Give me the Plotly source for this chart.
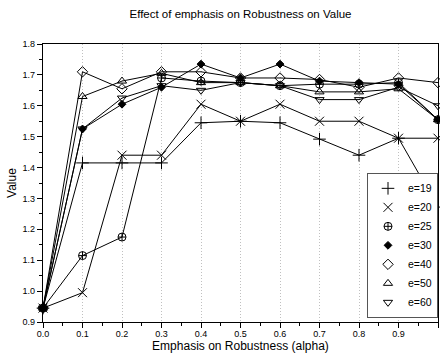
import plotly.graph_objects as go

alpha = [0.0, 0.1, 0.2, 0.3, 0.4, 0.5, 0.6, 0.7, 0.8, 0.9, 1.0]

e19 = [0.945, 1.415, 1.415, 1.415, 1.545, 1.55, 1.545, 1.492, 1.44, 1.495, 1.272]
e20 = [0.945, 0.995, 1.44, 1.44, 1.605, 1.55, 1.605, 1.55, 1.55, 1.495, 1.495]
e25 = [0.945, 1.115, 1.175, 1.69, 1.68, 1.675, 1.665, 1.67, 1.67, 1.675, 1.555]
e30 = [0.945, 1.525, 1.605, 1.66, 1.735, 1.69, 1.735, 1.68, 1.675, 1.67, 1.555]
e40 = [0.945, 1.71, 1.655, 1.71, 1.71, 1.69, 1.69, 1.685, 1.66, 1.69, 1.675]
e50 = [0.945, 1.63, 1.68, 1.705, 1.675, 1.675, 1.665, 1.645, 1.645, 1.655, 1.555]
e60 = [0.945, 1.525, 1.625, 1.665, 1.65, 1.675, 1.665, 1.62, 1.62, 1.66, 1.60]

series_names = ["e=19", "e=20", "e=25", "e=30", "e=40", "e=50", "e=60"]
series_values = [e19, e20, e25, e30, e40, e50, e60]
symbols = ["cross-thin-open", "x-thin-open", "circle-cross-open", "diamond",
           "diamond-open", "triangle-up-open", "triangle-down-open"]
sizes = [9, 9, 8, 6, 8, 8, 8]

FONT = "Liberation Sans, Arial, Helvetica, sans-serif"

fig = go.Figure()
for name, vals, sym, sz in zip(series_names, series_values, symbols, sizes):
    fig.add_trace(go.Scatter(
        x=alpha, y=vals, name=name, mode="lines+markers", showlegend=False,
        legendgroup=name,
        line=dict(color="black", width=1),
        marker=dict(symbol=sym, size=sz, color="black",
                    line=dict(color="black", width=1)),
        cliponaxis=False,
    ))
# legend entries showing the marker only (as in the reference)
for name, sym, sz in zip(series_names, symbols, sizes):
    fig.add_trace(go.Scatter(
        x=[None], y=[None], name=name, mode="markers", legendgroup=name,
        marker=dict(symbol=sym, size=sz, color="black",
                    line=dict(color="black", width=1)),
    ))

axis_common = dict(
    showline=True, linecolor="black", linewidth=1.2, mirror=True,
    ticks="outside", ticklen=5, tickcolor="black", tickwidth=1,
    tickfont=dict(size=9, color="black", family=FONT),
    tickformat=".1f", zeroline=False,
)

fig.update_xaxes(
    range=[0, 1], dtick=0.1, tick0=0,
    showgrid=True, gridcolor="#c0c0c0", griddash="1px,2px", gridwidth=1,
    minor=dict(dtick=0.05, ticks="outside", ticklen=3, tickcolor="black", showgrid=False),
    ticklabelstandoff=-2,
    title=dict(text="Emphasis on Robustness (alpha)", font=dict(size=12, family=FONT, color="black"), standoff=0),
    **axis_common,
)
fig.update_yaxes(
    range=[0.9, 1.8], dtick=0.1, tick0=0.9,
    showgrid=False,
    minor=dict(dtick=0.05, ticks="outside", ticklen=3, tickcolor="black", showgrid=False),
    title=dict(text="Value", font=dict(size=12, family=FONT, color="black"), standoff=3),
    **axis_common,
)

fig.update_layout(
    width=440, height=354,
    margin=dict(l=43, r=2, t=44, b=32),
    paper_bgcolor="white", plot_bgcolor="white",
    font=dict(family=FONT, color="black"),
    title=dict(text="Effect of emphasis on Robustness on Value", x=0.5, xref="paper",
               y=1 - 14 / 354, yref="container", yanchor="middle",
               font=dict(size=11.5, family=FONT, color="black")),
    legend=dict(x=1, xanchor="right", y=0.015, yanchor="bottom",
                bgcolor="white", bordercolor="#555555", borderwidth=1,
                font=dict(size=10.5, family=FONT, color="black"),
                itemwidth=30, tracegroupgap=0),
    showlegend=True,
)

fig.write_html("out.html")
